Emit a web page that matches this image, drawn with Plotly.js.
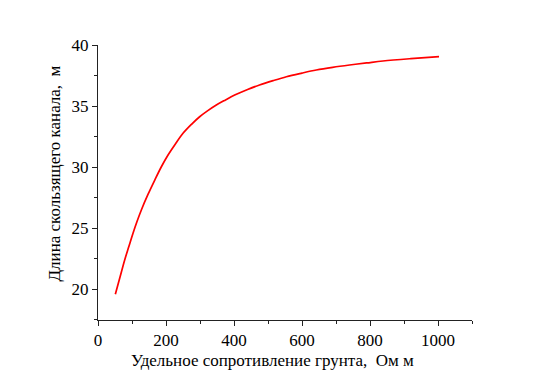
<!DOCTYPE html>
<html>
<head>
<meta charset="utf-8">
<script src="https://cdn.plot.ly/plotly-3.0.1.min.js"></script>
<style>html,body{margin:0;padding:0;background:#fff;}#chart{width:550px;height:384px;}</style>
</head>
<body>
<div id="chart"></div>
<script>
const resistivity = [51, 65, 78.5, 91, 103, 115, 127.5, 147, 167, 186, 206, 228, 250, 275, 299, 323, 348, 375, 402, 440, 475, 515, 554, 600, 642, 690, 740, 790, 838, 920, 1003];
const channelLength = [19.57, 21.0, 22.38, 23.5, 24.57, 25.55, 26.48, 27.75, 28.93, 30.0, 30.98, 31.9, 32.76, 33.5, 34.12, 34.62, 35.08, 35.5, 35.9, 36.35, 36.72, 37.08, 37.4, 37.7, 37.95, 38.17, 38.36, 38.53, 38.69, 38.88, 39.04];
const xTickVals = [0, 200, 400, 600, 800, 1000];
const yTickVals = [20, 25, 30, 35, 40];
const xTitle = "Удельное сопротивление грунта,  Ом м";
const yTitle = "Длина скользящего канала,  м";

const FAMILY = "Liberation Serif";
function f(size) { return {family: FAMILY, size: size, color: "#000"}; }

Plotly.newPlot("chart", [{
  x: resistivity, y: channelLength, type: "scatter", mode: "lines",
  line: {color: "#ff0000", width: 1.7, shape: "spline"}, hoverinfo: "skip"
}], {
  width: 550, height: 384,
  margin: {l: 98, r: 78, t: 45, b: 64},
  paper_bgcolor: "#fff", plot_bgcolor: "#fff",
  font: f(17),
  showlegend: false,
  xaxis: {
    range: [0, 1100], tickmode: "array", tickvals: xTickVals, ticktext: xTickVals.map(String),
    showgrid: false, zeroline: false,
    showline: true, linecolor: "#222", linewidth: 1,
    ticks: "outside", ticklen: 5, tickcolor: "#222", tickfont: f(17),
    minor: {dtick: 100, tick0: 0, ticks: "outside", ticklen: 3, tickcolor: "#222", showgrid: false},
    automargin: false
  },
  yaxis: {
    range: [17.46, 40], tickmode: "array", tickvals: yTickVals, ticktext: yTickVals.map(String),
    showgrid: false, zeroline: false,
    showline: true, linecolor: "#222", linewidth: 1,
    ticks: "outside", ticklen: 5, tickcolor: "#222", tickfont: f(17),
    minor: {dtick: 2.5, tick0: 0, ticks: "outside", ticklen: 3, tickcolor: "#222", showgrid: false},
    automargin: false
  },
  annotations: [
    {text: xTitle, xref: "paper", yref: "paper", x: (272 - 98) / 374, y: -(360 - 320) / 275,
     xanchor: "center", yanchor: "middle", showarrow: false, font: f(17)},
    {text: yTitle, xref: "paper", yref: "paper", x: -(98 - 54) / 374, y: (320 - 173.5) / 275,
     xanchor: "center", yanchor: "middle", textangle: -90, showarrow: false, font: f(17)}
  ]
}, {staticPlot: true});
</script>
</body>
</html>
